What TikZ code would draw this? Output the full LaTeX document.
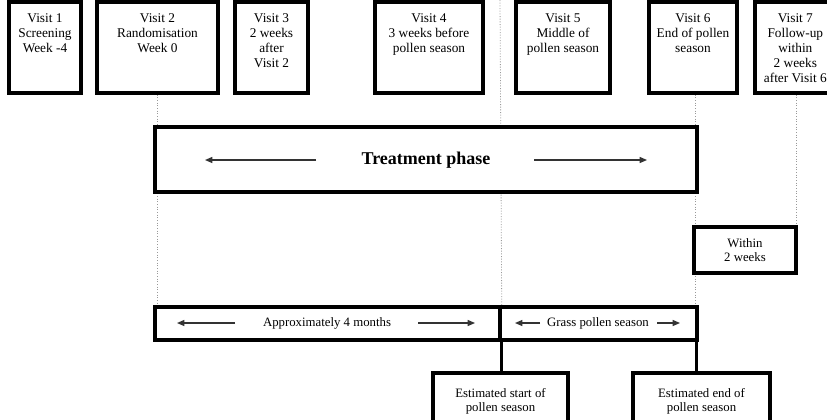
\documentclass[tikz,border=0pt]{standalone}
\usepackage{fontspec}
\setmainfont{Liberation Serif}
\usetikzlibrary{arrows.meta,fit,backgrounds}
\begin{document}
\begin{tikzpicture}[x=0.75pt,y=-0.75pt,
  box/.style={draw=black, fill=white, line width=2.6pt, inner sep=0pt},
  vtext/.style={align=center, inner sep=0pt, anchor=north,
    font=\fontsize{10}{11.3}\selectfont},
  ltext/.style={align=center, inner sep=0pt, font=\fontsize{9.6}{10.6}\selectfont},
  guide/.style={draw=black!40, line width=0.6pt, dash pattern=on 0.8pt off 1.2pt},
  span/.style={line width=0.9pt, draw=black!80,
    -{Triangle[length=5.5pt,width=4.5pt]}},
  link/.style={line width=2.6pt, draw=black},
]
\useasboundingbox (0,0) rectangle (827,419);

% visit boxes along the top
\node[box, fit={(9,2) (81,93)}] (v1) {};
\node[box, fit={(97,2) (218,93)}] (v2) {};
\node[box, fit={(235,2) (308,93)}] (v3) {};
\node[box, fit={(375,2) (483,93)}] (v4) {};
\node[box, fit={(516,2) (610,93)}] (v5) {};
\node[box, fit={(649,2) (737,93)}] (v6) {};
\node[box, fit={(755,2) (837,93)}] (v7) {};

\node[vtext] (t1) at ([yshift=-9.5pt]v1.north) {Visit 1\\Screening\\Week -4};
\node[vtext] (t2) at ([yshift=-9.5pt]v2.north) {Visit 2\\Randomisation\\Week 0};
\node[vtext] (t3) at ([yshift=-9.5pt]v3.north) {Visit 3\\2 weeks\\after\\Visit 2};
\node[vtext] (t4) at ([yshift=-9.5pt]v4.north) {Visit 4\\3 weeks before\\pollen season};
\node[vtext] (t5) at ([yshift=-9.5pt]v5.north) {Visit 5\\Middle of\\pollen season};
\node[vtext] (t6) at ([yshift=-9.5pt]v6.north) {Visit 6\\End of pollen\\season};
\node[vtext] (t7) at ([yshift=-9.5pt,xshift=-0.5pt]v7.north) {Visit 7\\Follow-up\\within\\2 weeks\\after Visit 6};

% treatment phase
\node[box, fit={(155,127) (697,192)}] (tp) {};
\node[inner sep=0pt, font=\fontsize{13.5}{15}\selectfont\bfseries] (tpl) at (426,160) {Treatment phase};
\coordinate (tl1) at (316,160); \coordinate (tl2) at (205,160);
\coordinate (tr1) at (534,160); \coordinate (tr2) at (647,160);
\draw[span] (tl1) -- (tl2);
\draw[span] (tr1) -- (tr2);

% follow-up window
\node[box, fit={(694,227) (796,273)}] (wb) {};
\node[ltext] (wbl) at (wb.center) {Within\\2 weeks};

% time spans
\node[box, fit={(155,307) (500,340)}] (ap1) {};
\node[box, fit={(500,307) (697,340)}] (ap2) {};
\node[ltext] (ap1l) at (327,323) {Approximately 4 months};
\node[ltext] (ap2l) at (598,323) {Grass pollen season};
\coordinate (a1) at (235,323); \coordinate (a2) at (177,323);
\coordinate (a3) at (418,323); \coordinate (a4) at (475,323);
\coordinate (g1) at (540,323); \coordinate (g2) at (515,323);
\coordinate (g3) at (657,323); \coordinate (g4) at (680,323);
\draw[span] (a1) -- (a2);
\draw[span] (a3) -- (a4);
\draw[span] (g1) -- (g2);
\draw[span] (g3) -- (g4);

% estimated season limits
\node[box, fit={(433,373) (568,430)}] (es) {};
\node[box, fit={(633,373) (770,430)}] (ee) {};
\node[ltext, anchor=north] (esl) at ([yshift=-12.75pt]es.north) {Estimated start of\\pollen season};
\node[ltext, anchor=north] (eel) at ([yshift=-12.75pt]ee.north) {Estimated end of\\pollen season};
\draw[link] (ap1.south east) -- (ap1.south east |- es.north);
\draw[link] ([xshift=-1.5pt]ap2.south east) -- ([xshift=-1.5pt]ap2.south east |- ee.north);

% dotted timeline guides
\coordinate (top5) at (500,0);
\begin{scope}[on background layer]
  \draw[guide] (v2.south) -- (v2.south |- ap1.north);
  \draw[guide] (top5) -- (ap1.north east);
  \draw[guide] ([xshift=1.5pt]v6.south) -- ([xshift=1.5pt]v6.south |- ap2.north);
  \draw[guide] (v7.south) -- (v7.south |- wb.north);
\end{scope}
\end{tikzpicture}
\end{document}
